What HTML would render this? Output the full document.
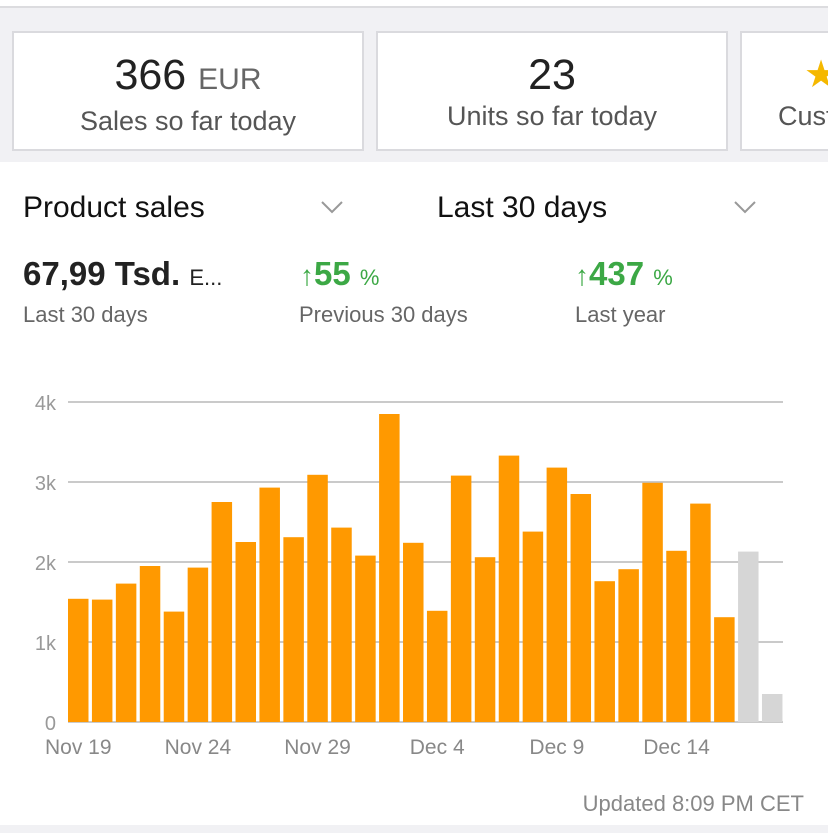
<!DOCTYPE html>
<html><head><meta charset="utf-8"><style>
body{margin:0;width:828px;height:833px;overflow:hidden;background:#fff;font-family:"Liberation Sans",sans-serif;position:relative}
.abs{position:absolute}
.clip{left:0;top:0;width:828px;height:833px;overflow:hidden}
.top{left:0;top:0;width:828px;height:162px;background:#f1f1f4;border-top:7px solid #fff;box-sizing:border-box}
.topline{left:0;top:6px;width:828px;height:2px;background:#dcdcdf}
.card{top:31px;height:120px;background:#fff;border:2px solid #dadade;box-sizing:border-box;text-align:center}
.big{font-size:43px;color:#222;margin-top:18px;line-height:48px}
.sub{font-size:27px;color:#555;margin-top:2px}
.hdr{font-size:30px;color:#111}
.lbl{font-size:22px;color:#666}
.green{color:#3ca845}
</style></head><body>
<div class="abs clip">
<div class="abs top"></div>
<div class="abs topline"></div>
<div class="abs card" style="left:12px;width:352px"><div class="big">366 <span style="font-size:30px;color:#666">EUR</span></div><div class="sub">Sales so far today</div></div>
<div class="abs card" style="left:376px;width:352px"><div class="big">23</div><div class="sub">Units so far today</div></div>
<div class="abs card" style="left:740px;width:88px;text-align:left;padding-left:40px;border-right:none;overflow:hidden;white-space:nowrap"><div class="big" style="color:#f5b800;font-size:38px;margin-left:22px">★</div><div class="sub" style="margin-left:-4px">Customer</div></div>
<div class="abs hdr" style="left:23px;top:191px">Product sales</div>
<svg class="abs" style="left:320px;top:200px" width="24" height="14"><polyline points="2,2 12,12 22,2" fill="none" stroke="#999" stroke-width="2"/></svg>
<div class="abs hdr" style="left:437px;top:191px">Last 30 days</div>
<svg class="abs" style="left:733px;top:200px" width="24" height="14"><polyline points="2,2 12,12 22,2" fill="none" stroke="#999" stroke-width="2"/></svg>
<div class="abs" style="left:23px;top:255px;font-size:33px;font-weight:bold;color:#222">67,99 Tsd. <span style="font-size:22px;font-weight:normal">E...</span></div>
<div class="abs lbl" style="left:23px;top:302px">Last 30 days</div>
<div class="abs green" style="left:300px;top:255px;font-size:33px;font-weight:bold"><span style="font-weight:normal;font-size:28px">↑</span>55 <span style="font-size:22px;font-weight:normal">%</span></div>
<div class="abs lbl" style="left:299px;top:302px">Previous 30 days</div>
<div class="abs green" style="left:575px;top:255px;font-size:33px;font-weight:bold"><span style="font-weight:normal;font-size:28px">↑</span>437 <span style="font-size:22px;font-weight:normal">%</span></div>
<div class="abs lbl" style="left:575px;top:302px">Last year</div>
<svg class="abs" style="left:0;top:380px" width="828" height="420" id="chart"></svg>
<div class="abs" style="right:24px;top:791px;font-size:22px;color:#888">Updated 8:09 PM CET</div>
<div class="abs" style="left:0;top:825px;width:828px;height:8px;background:#f1f1f4"></div>
</div>
<script>
const values=[1.54,1.53,1.73,1.95,1.38,1.93,2.75,2.25,2.93,2.31,3.09,2.43,2.08,3.85,2.24,1.39,3.08,2.06,3.33,2.38,3.18,2.85,1.76,1.91,2.99,2.14,2.73,1.31,2.13,0.35];
const partial=[false,false,false,false,false,false,false,false,false,false,false,false,false,false,false,false,false,false,false,false,false,false,false,false,false,false,false,false,true,true];
const yTicks=[0,1,2,3,4];
const yTickLabels=["0","1k","2k","3k","4k"];
const xLabels=["Nov 19","Nov 24","Nov 29","Dec 4","Dec 9","Dec 14"];
const xLabelIdx=[0,5,10,15,20,25];
const svg=document.getElementById('chart');const NS='http://www.w3.org/2000/svg';
const y0=342,pxPerK=80,x0=68,step=23.93,bw=20.5;
const y=v=>y0-v*pxPerK, x=i=>x0+i*step;
function mk(t,a){const e=document.createElementNS(NS,t);for(const k in a)e.setAttribute(k,a[k]);svg.appendChild(e);return e;}
yTicks.forEach((t,i)=>{const l=mk('line',{x1:68,x2:783,y1:y(t),y2:y(t),stroke:'#aaa','stroke-width':1.3});

const tx=mk('text',{x:56,y:y(t)+8,'text-anchor':'end','font-size':20,fill:'#999','font-family':'Liberation Sans'});tx.textContent=yTickLabels[i];
});
values.forEach((v,i)=>{const r=mk('rect',{x:x(i),y:y(v),width:bw,height:v*pxPerK,fill:partial[i]?'#d6d6d6':'#ff9900'});
});
xLabels.forEach((s,j)=>{const t=mk('text',{x:x(xLabelIdx[j])+bw/2,y:374,'text-anchor':'middle','font-size':21,fill:'#888','font-family':'Liberation Sans'});t.textContent=s;
});
</script>
</body></html>
